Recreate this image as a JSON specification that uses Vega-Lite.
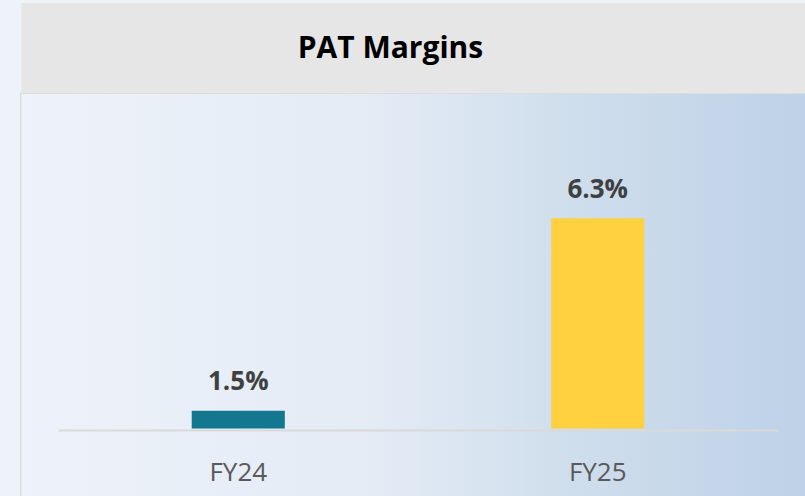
{
  "$schema": "https://vega.github.io/schema/vega-lite/v6.json",
  "background": "#eef3f9",
  "padding": {"left": 19.5, "top": 3, "right": 0, "bottom": 0},
  "spacing": 0,
  "config": {"font": "Open Sans", "view": {"stroke": null}},
  "vconcat": [
    {
      "width": 786,
      "height": 89,
      "view": {"fill": "#e6e6e6", "stroke": null},
      "data": {"values": [{"title": "PAT Margins"}]},
      "mark": {"type": "text", "font": "Open Sans", "fontWeight": "bold", "fontSize": 30, "color": "#000000", "baseline": "alphabetic", "dx": -24, "dy": 10.5},
      "encoding": {"text": {"field": "title"}}
    },
    {
      "width": 786,
      "height": 402,
      "view": {"stroke": "#dcdcdc", "strokeWidth": 3},
      "layer": [
        {
          "data": {"values": [{"panel": "background"}]},
          "mark": {"type": "rect", "color": {"gradient": "linear", "x1": 0, "x2": 1, "y1": 0, "y2": 0, "stops": [{"offset": 0, "color": "#eef2fa"}, {"offset": 0.45, "color": "#e3ebf5"}, {"offset": 0.7, "color": "#cfdeec"}, {"offset": 1, "color": "#bed1e8"}]}},
          "encoding": {}
        },
        {
          "data": {"values": [
            {"year": "FY24", "value": 1.5, "label": "1.5%"},
            {"year": "FY25", "value": 6.3, "label": "6.3%"}
          ]},
          "encoding": {
            "x": {"field": "year", "type": "nominal", "sort": null,
              "scale": {"range": [36.5, 756.5], "paddingInner": 0.741, "paddingOuter": 0.372},
              "axis": {"orient": "bottom", "offset": -66, "zindex": 1, "domain": true, "domainColor": "#d9d9d9", "domainWidth": 2, "ticks": false, "tickSize": 0, "labelPadding": 50, "labelBaseline": "alphabetic", "labelFontSize": 26, "labelColor": "#595959", "labelFont": "Open Sans", "title": null, "labelAngle": 0, "grid": false}},
            "y": {"field": "value", "type": "quantitative",
              "scale": {"domain": [-0.624, 9.401], "zero": false, "nice": false},
              "axis": null}
          },
          "layer": [
            {
              "mark": {"type": "bar"},
              "encoding": {
                "y2": {"datum": 1.059},
                "color": {"field": "year", "type": "nominal", "scale": {"domain": ["FY24", "FY25"], "range": ["#13778f", "#ffd040"]}, "legend": null}
              }
            },
            {
              "mark": {"type": "text", "font": "Open Sans", "fontWeight": "bold", "fontSize": 26, "color": "#404040", "baseline": "alphabetic", "dy": -20.5},
              "encoding": {"text": {"field": "label"}}
            }
          ]
        }
      ]
    }
  ]
}
